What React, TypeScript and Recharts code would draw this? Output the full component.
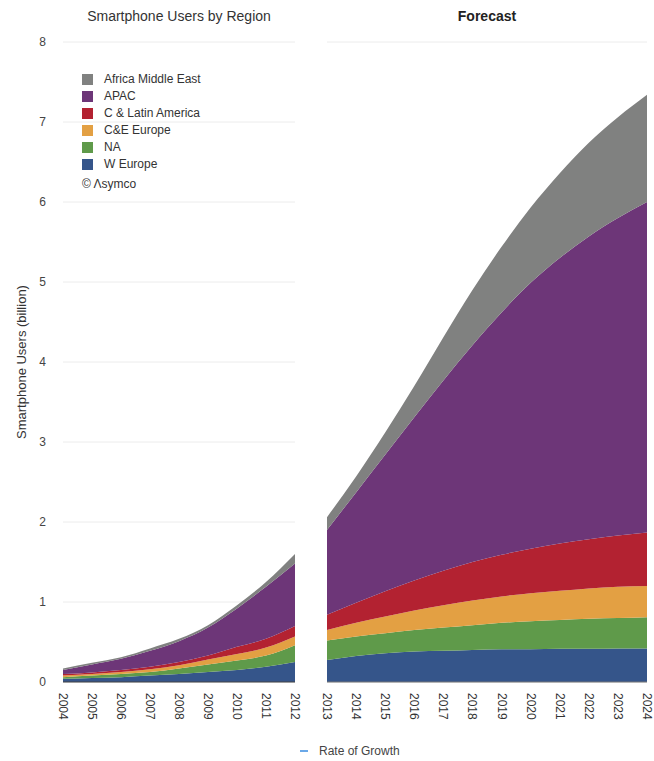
import React from "react";
import {
  AreaChart,
  Area,
  XAxis,
  YAxis,
  CartesianGrid,
} from "recharts";

// history 2004-2012 (billions, per region)
const pastYears = ["2004", "2005", "2006", "2007", "2008", "2009", "2010", "2011", "2012"];
const pastWEurope = [0.04, 0.05, 0.06, 0.08, 0.1, 0.125, 0.15, 0.19, 0.25];
const pastNA = [0.02, 0.03, 0.04, 0.045, 0.07, 0.095, 0.12, 0.14, 0.21];
const pastCEEurope = [0.02, 0.02, 0.025, 0.035, 0.04, 0.06, 0.08, 0.1, 0.11];
const pastLatAm = [0.02, 0.02, 0.025, 0.03, 0.04, 0.05, 0.09, 0.11, 0.13];
const pastAPAC = [0.05, 0.1, 0.14, 0.2, 0.26, 0.35, 0.48, 0.65, 0.78];
const pastAfricaME = [0.02, 0.02, 0.02, 0.03, 0.03, 0.03, 0.04, 0.06, 0.12];

// forecast 2013-2024
const fcYears = ["2013", "2014", "2015", "2016", "2017", "2018", "2019", "2020", "2021", "2022", "2023", "2024"];
const fcWEurope = [0.275, 0.325, 0.36, 0.38, 0.39, 0.4, 0.41, 0.41, 0.415, 0.415, 0.42, 0.42];
const fcNA = [0.245, 0.245, 0.25, 0.27, 0.29, 0.31, 0.33, 0.35, 0.36, 0.375, 0.38, 0.39];
const fcCEEurope = [0.13, 0.17, 0.21, 0.245, 0.28, 0.31, 0.33, 0.35, 0.365, 0.38, 0.39, 0.39];
const fcLatAm = [0.19, 0.25, 0.315, 0.375, 0.43, 0.48, 0.52, 0.555, 0.59, 0.615, 0.64, 0.67];
const fcAPAC = [1.06, 1.38, 1.705, 2.04, 2.38, 2.71, 3.03, 3.325, 3.57, 3.785, 3.97, 4.13];
const fcAfricaME = [0.16, 0.2, 0.28, 0.39, 0.54, 0.69, 0.82, 0.94, 1.06, 1.17, 1.26, 1.34];

const yTicks = [0, 1, 2, 3, 4, 5, 6, 7, 8];

// stack order bottom -> top
const series = [
  { key: "we", name: "W Europe", color: "#35558a" },
  { key: "na", name: "NA", color: "#5f9a4a" },
  { key: "cee", name: "C&E Europe", color: "#e3a043" },
  { key: "cla", name: "C & Latin America", color: "#b32231" },
  { key: "apac", name: "APAC", color: "#6d3678" },
  { key: "ame", name: "Africa Middle East", color: "#808180" },
];

const pastData = pastYears.map((year, i) => ({
  year,
  we: pastWEurope[i],
  na: pastNA[i],
  cee: pastCEEurope[i],
  cla: pastLatAm[i],
  apac: pastAPAC[i],
  ame: pastAfricaME[i],
}));

const fcData = fcYears.map((year, i) => ({
  year,
  we: fcWEurope[i],
  na: fcNA[i],
  cee: fcCEEurope[i],
  cla: fcLatAm[i],
  apac: fcAPAC[i],
  ame: fcAfricaME[i],
}));

const FONT = "'Liberation Sans', Arial, sans-serif";

const YearTick = ({ x, y, payload }: any) => (
  <text
    transform={`translate(${x},${y + 3}) rotate(90)`}
    textAnchor="start"
    dominantBaseline="central"
    fontSize={12}
    fill="#333"
    fontFamily={FONT}
  >
    {payload.value}
  </text>
);

const AxisTitle = () => (
  <text
    transform="translate(21,362) rotate(-90)"
    textAnchor="middle"
    dominantBaseline="central"
    fontSize={13}
    fill="#333"
    fontFamily={FONT}
  >
    Smartphone Users (billion)
  </text>
);

const RegionLegend = () => (
  <div style={{ fontFamily: FONT, fontSize: 12, color: "#333", lineHeight: "17px" }}>
    {[...series].reverse().map((s) => (
      <div key={s.key} style={{ display: "flex", alignItems: "center" }}>
        <span
          style={{
            display: "inline-block",
            width: 11,
            height: 11,
            background: s.color,
            marginRight: 11,
          }}
        />
        {s.name}
      </div>
    ))}
    <div style={{ marginTop: 3 }}>© Λsymco</div>
  </div>
);

const areas = () =>
  series.map((s) => (
    <Area
      key={s.key}
      type="monotone"
      dataKey={s.key}
      name={s.name}
      stackId="1"
      stroke="none"
      fill={s.color}
      fillOpacity={1}
      isAnimationActive={false}
    />
  ));

export default function App() {
  return (
    <div
      style={{
        position: "fixed",
        left: 0,
        top: 0,
        width: 654,
        height: 761,
        background: "#fff",
        fontFamily: FONT,
      }}
    >
      <div
        style={{
          position: "absolute",
          left: 63,
          width: 232,
          top: 8,
          textAlign: "center",
          fontSize: 14,
          color: "#333",
        }}
      >
        Smartphone Users by Region
      </div>
      <div
        style={{
          position: "absolute",
          left: 327,
          width: 320,
          top: 8,
          textAlign: "center",
          fontSize: 14,
          fontWeight: "bold",
          color: "#222",
        }}
      >
        Forecast
      </div>

      <div style={{ position: "absolute", left: 0, top: 0 }}>
        <AreaChart
          width={310}
          height={761}
          data={pastData}
          margin={{ top: 42, right: 15, left: 0, bottom: 39 }}
        >
          <CartesianGrid vertical={false} stroke="#ececec" />
          <XAxis
            dataKey="year"
            height={40}
            interval={0}
            tick={<YearTick />}
            tickLine={false}
            axisLine={{ stroke: "#444" }}
          />
          <YAxis
            width={63}
            domain={[0, 8]}
            ticks={yTicks}
            tickLine={false}
            axisLine={false}
            tickSize={0}
            tickMargin={17}
            tick={{ fontSize: 12, fill: "#444", fontFamily: FONT }}
            label={<AxisTitle />}
          />
          {areas()}
        </AreaChart>
      </div>

      <div style={{ position: "absolute", left: 82, top: 71 }}>
        <RegionLegend />
      </div>

      <div style={{ position: "absolute", left: 310, top: 0 }}>
        <AreaChart
          width={344}
          height={761}
          data={fcData}
          margin={{ top: 42, right: 7, left: 17, bottom: 39 }}
        >
          <CartesianGrid vertical={false} stroke="#ececec" />
          <XAxis
            dataKey="year"
            height={40}
            interval={0}
            tick={<YearTick />}
            tickLine={false}
            axisLine={{ stroke: "#777" }}
          />
          <YAxis width={0} domain={[0, 8]} ticks={yTicks} tick={false} axisLine={false} tickLine={false} />
          {areas()}
        </AreaChart>
      </div>

      <div
        style={{
          position: "absolute",
          left: 300,
          top: 744,
          fontSize: 12,
          color: "#444",
          display: "flex",
          alignItems: "center",
        }}
      >
        <span
          style={{
            display: "inline-block",
            width: 8,
            height: 2,
            background: "#6aa8e8",
            marginRight: 11,
          }}
        />
        Rate of Growth
      </div>
    </div>
  );
}
